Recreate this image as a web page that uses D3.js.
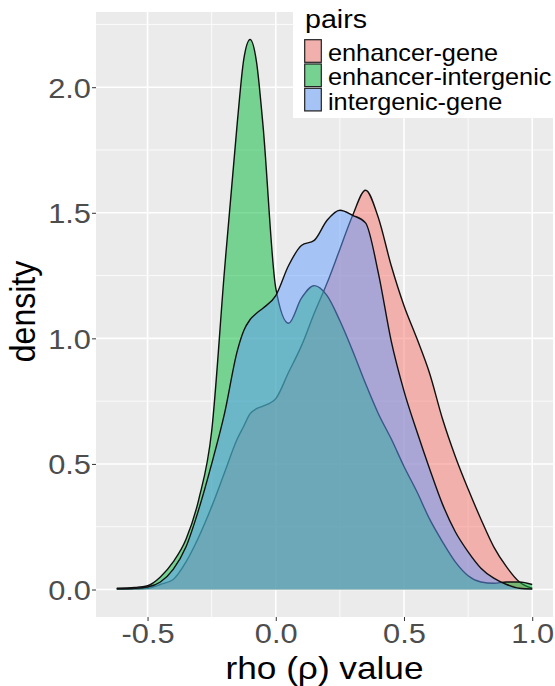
<!DOCTYPE html>
<html>
<head>
<meta charset="utf-8">
<script src="https://cdn.jsdelivr.net/npm/d3@7"></script>
<style>
  body { margin: 0; background: #fff; }
  text { font-family: "Liberation Sans", Arial, Helvetica, sans-serif; }
</style>
</head>
<body>
<div id="chart"></div>
<script>
let rho = [-0.62, -0.55, -0.5, -0.45, -0.4, -0.35, -0.3, -0.25, -0.2, -0.15, -0.125, -0.1, -0.075, -0.05,
           0, 0.05, 0.1, 0.15, 0.2, 0.25, 0.3, 0.35, 0.4, 0.45, 0.5, 0.55, 0.6, 0.65, 0.7, 0.75,
           0.8, 0.85, 0.9, 0.95, 1.0];

// density per pair type
let enhancerGene = [0.002, 0.003, 0.005, 0.02, 0.04, 0.11, 0.21, 0.33, 0.465, 0.60, 0.65, 0.70, 0.72, 0.73,
                    0.76, 0.865, 0.97, 1.10, 1.22, 1.355, 1.49, 1.59, 1.48, 1.29, 1.13, 1.0, 0.86, 0.68, 0.53, 0.40,
                    0.28, 0.17, 0.09, 0.03, 0.005];
let enhancerIntergenic = [0.005, 0.008, 0.015, 0.05, 0.11, 0.2, 0.36, 0.63, 1.27, 1.86, 2.11, 2.19, 2.1, 1.85,
                    1.2, 1.06, 1.16, 1.21, 1.17, 1.07, 0.95, 0.82, 0.70, 0.60, 0.49, 0.39, 0.28, 0.19, 0.11, 0.055,
                    0.03, 0.025, 0.03, 0.03, 0.02];
let intergenicGene = [0.003, 0.005, 0.01, 0.03, 0.08, 0.17, 0.32, 0.5, 0.70, 0.95, 1.03, 1.075, 1.1, 1.12,
                    1.17, 1.29, 1.37, 1.39, 1.47, 1.51, 1.49, 1.46, 1.26, 0.99, 0.79, 0.63, 0.48, 0.34, 0.23, 0.15,
                    0.085, 0.045, 0.02, 0.005, 0.002];

let pairNames = ["enhancer-gene", "enhancer-intergenic", "intergenic-gene"];
let pairColors = ["#F8766D", "#00BA38", "#619CFF"];
let xTicks = [-0.5, 0, 0.5, 1.0];
let xMinor = [-0.25, 0.25, 0.75];
let yTicks = [0, 0.5, 1.0, 1.5, 2.0];
let yMinor = [0.25, 0.75, 1.25, 1.75, 2.25];

let width = 555, height = 686;
let pLeft = 96, pRight = 553, pTop = 12, pBottom = 617;
let SX = 1.1; // the picture is a little wider than tall

let svg = d3.select("#chart").append("svg")
    .attr("width", width)
    .attr("height", height);

// ggplot style 5% expansion
let xr = d3.extent(rho);
let xpad = (xr[1] - xr[0]) * 0.05;
let ymax = d3.max([enhancerGene, enhancerIntergenic, intergenicGene].flat());
let x = d3.scaleLinear().domain([xr[0] - xpad, xr[1] + xpad]).range([pLeft, pRight]);
let y = d3.scaleLinear().domain([-ymax * 0.05, ymax * 1.05]).range([pBottom, pTop]);

// panel
svg.append("rect")
    .attr("x", pLeft).attr("y", pTop)
    .attr("width", pRight - pLeft).attr("height", pBottom - pTop)
    .attr("fill", "#EBEBEB");

svg.selectAll(".xminor").data(xMinor).enter().append("line")
    .attr("x1", d => x(d)).attr("x2", d => x(d))
    .attr("y1", pTop).attr("y2", pBottom)
    .attr("stroke", "#fff").attr("stroke-width", 0.8);
svg.selectAll(".yminor").data(yMinor).enter().append("line")
    .attr("x1", pLeft).attr("x2", pRight)
    .attr("y1", d => y(d)).attr("y2", d => y(d))
    .attr("stroke", "#fff").attr("stroke-width", 0.8);
svg.selectAll(".xmajor").data(xTicks).enter().append("line")
    .attr("x1", d => x(d)).attr("x2", d => x(d))
    .attr("y1", pTop).attr("y2", pBottom)
    .attr("stroke", "#fff").attr("stroke-width", 1.6);
svg.selectAll(".ymajor").data(yTicks).enter().append("line")
    .attr("x1", pLeft).attr("x2", pRight)
    .attr("y1", d => y(d)).attr("y2", d => y(d))
    .attr("stroke", "#fff").attr("stroke-width", 1.6);

// densities, drawn in group order like ggplot
let series = [enhancerGene, enhancerIntergenic, intergenicGene];
let area = d3.area()
    .x((d, i) => x(rho[i]))
    .y0(y(0))
    .y1(d => y(d))
    .curve(d3.curveMonotoneX);
let line = d3.line()
    .x((d, i) => x(rho[i]))
    .y(d => y(d))
    .curve(d3.curveMonotoneX);

series.forEach(function(s, k) {
    svg.append("path")
        .attr("d", area(s))
        .attr("fill", pairColors[k])
        .attr("fill-opacity", 0.5);
    svg.append("path")
        .attr("d", line(s))
        .attr("fill", "none")
        .attr("stroke", "#111")
        .attr("stroke-width", 1.4);
});

// axes
let xAxis = d3.axisBottom(x).tickValues(xTicks).tickSize(4).tickFormat(d3.format(".1f"));
let yAxis = d3.axisLeft(y).tickValues(yTicks).tickSize(4).tickFormat(d3.format(".1f"));

let gx = svg.append("g").attr("transform", "translate(0," + pBottom + ")").call(xAxis);
let gy = svg.append("g").attr("transform", "translate(" + pLeft + ",0)").call(yAxis);
[gx, gy].forEach(function(g) {
    g.select(".domain").remove();
    g.selectAll(".tick line").attr("stroke", "#333").attr("stroke-width", 1);
    g.selectAll(".tick text")
        .attr("fill", "#4D4D4D")
        .style("font-size", "28px");
});
gx.selectAll(".tick text")
    .attr("y", 0).attr("dy", null)
    .attr("transform", "translate(0,26) scale(" + SX + ",1)")
    .text(d => d3.format(".1f")(d).replace("−", "-"));
gy.selectAll(".tick text")
    .attr("x", 0).attr("dy", null)
    .attr("transform", "translate(-5,10) scale(" + SX + ",1)");

// axis titles
svg.append("text")
    .attr("transform", "translate(" + ((pLeft + pRight) / 2) + ",679) scale(" + SX + ",1)")
    .attr("text-anchor", "middle")
    .style("font-size", "32px")
    .text("rho (ρ) value");

svg.append("text")
    .attr("transform", "translate(35," + ((pTop + pBottom) / 2 - 3) + ") scale(" + SX + ",1) rotate(-90)")
    .attr("text-anchor", "middle")
    .style("font-size", "32px")
    .text("density");

// legend
let legend = svg.append("g");
legend.append("rect")
    .attr("x", 293).attr("y", 0)
    .attr("width", width - 293).attr("height", 118)
    .attr("fill", "#fff");
legend.append("text")
    .attr("transform", "translate(305,28) scale(" + SX + ",1)")
    .style("font-size", "26px")
    .text("pairs");

let rows = legend.selectAll(".key").data(pairNames).enter().append("g")
    .attr("transform", (d, i) => "translate(304," + (39 + i * 24.3) + ")");
rows.append("rect")
    .attr("width", 18).attr("height", 24)
    .attr("fill", "#EBEBEB");
rows.append("rect")
    .attr("x", 0.7).attr("y", 0.7)
    .attr("width", 16.6).attr("height", 22.6)
    .attr("fill", (d, i) => pairColors[i])
    .attr("fill-opacity", 0.5)
    .attr("stroke", "#222")
    .attr("stroke-width", 1.2);
rows.append("text")
    .attr("transform", "translate(24,22) scale(" + SX + ",1)")
    .style("font-size", "23px")
    .text(d => d);
</script>
</body>
</html>
